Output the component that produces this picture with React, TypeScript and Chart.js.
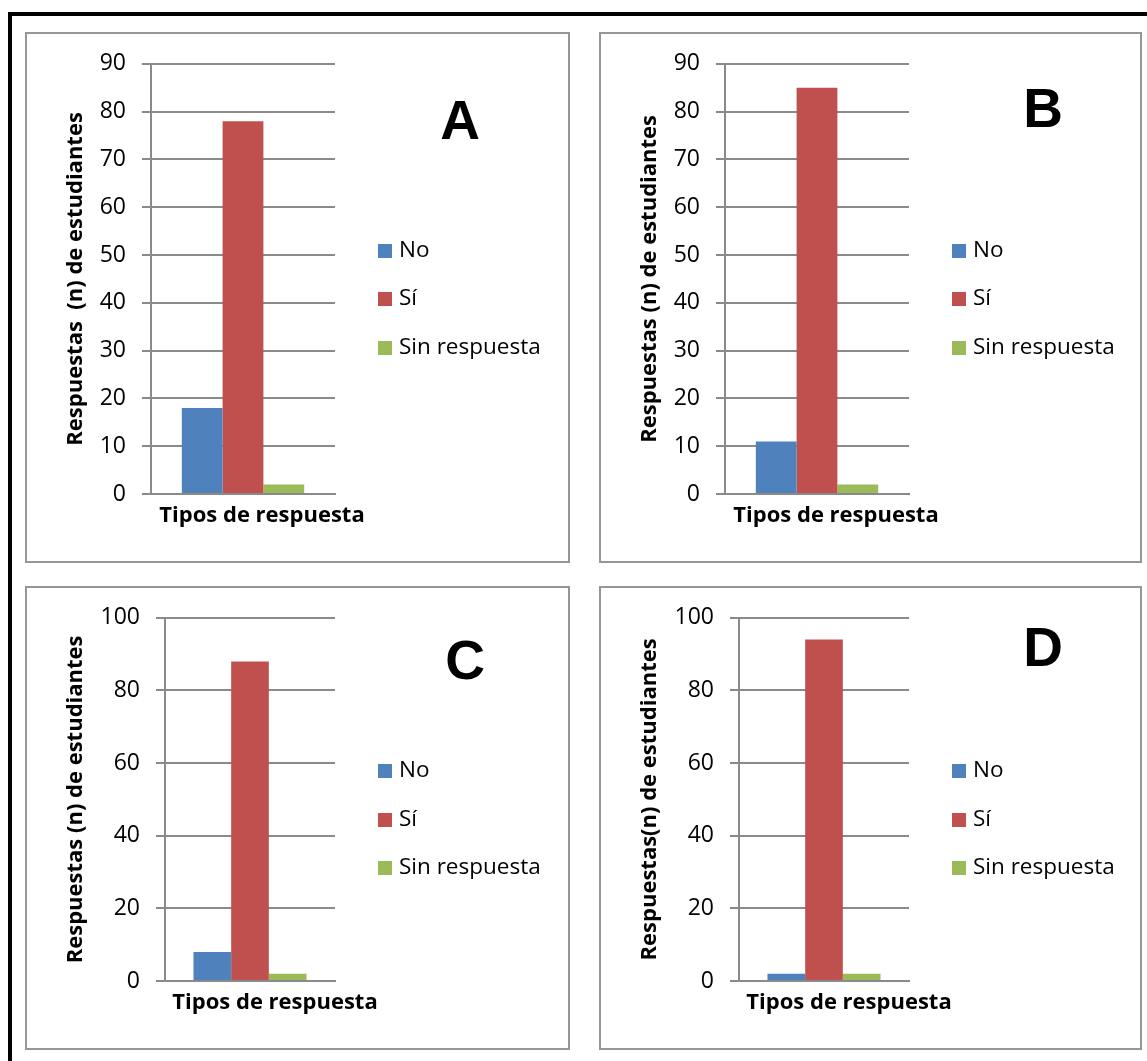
import { useEffect, useRef } from 'react';
import { Chart, registerables } from 'chart.js';

Chart.register(...registerables);

// Series shared by the four panels
const seriesNames = ['No', 'Sí', 'Sin respuesta'];
const seriesColors = ['#4F81BD', '#C0504D', '#9BBB59'];
const categories = ['Tipos de respuesta'];

// Student answers (n) per panel, in the order of seriesNames
const valuesA = [18, 78, 2];
const valuesB = [11, 85, 2];
const valuesC = [8, 88, 2];
const valuesD = [2, 94, 2];

// Value axis ranges
const axisMaxAB = 90;
const axisStepAB = 10;
const axisMaxCD = 100;
const axisStepCD = 20;

const GRID = '#8a8a8a';
const FONT = '"Open Sans", "Noto Sans", sans-serif';

// Legend stacked to the right of the plot, vertically centred on the canvas
const sideLegend = {
  id: 'sideLegend',
  afterDraw(chart: any, _args: any, opts: any) {
    const { ctx, chartArea } = chart;
    const sets = chart.data.datasets;
    const n = sets.length;
    const box = opts.boxSize;
    const x = chartArea.right + opts.offsetX;
    const cy = chart.height / 2 + opts.offsetY;
    ctx.save();
    ctx.font = `${opts.fontSize}px ${FONT}`;
    ctx.textBaseline = 'middle';
    ctx.textAlign = 'left';
    sets.forEach((ds: any, i: number) => {
      const y = cy + (i - (n - 1) / 2) * opts.spacing;
      ctx.fillStyle = ds.backgroundColor;
      ctx.fillRect(x, Math.round(y - box / 2), box, box);
      ctx.fillStyle = '#000';
      ctx.fillText(ds.label, x + box + opts.textGap, y);
    });
    ctx.restore();
  },
};

type PanelProps = {
  letter: string;
  values: number[];
  yMax: number;
  yStep: number;
  yTitle: string;
  left: number;
  top: number;
  width: number;
  height: number;
  axisWidth: number;
  padTop: number;
  padBottom: number;
  xHeight: number;
  labelShift: number;
  letterX: number;
  letterY: number;
};

function Panel(p: PanelProps) {
  const ref = useRef<HTMLCanvasElement | null>(null);
  const innerW = p.width - 4;
  const innerH = p.height - 4;

  useEffect(() => {
    if (!ref.current) return;
    const chart = new Chart(ref.current, {
      type: 'bar',
      data: {
        labels: categories,
        datasets: seriesNames.map((name, i) => ({
          label: name,
          data: [p.values[i]],
          backgroundColor: seriesColors[i],
          borderWidth: 0,
          categoryPercentage: 0.665,
          barPercentage: 1,
        })),
      },
      options: {
        responsive: false,
        animation: false,
        devicePixelRatio: 1,
        layout: { padding: { top: p.padTop, bottom: p.padBottom, left: 0, right: innerW - 308 } },
        plugins: {
          tooltip: { enabled: false },
          legend: { display: false },
          sideLegend: {
            offsetX: 43,
            offsetY: 1.5,
            boxSize: 14,
            textGap: 7,
            spacing: 48.5,
            fontSize: 22.5,
          },
        },
        scales: {
          x: {
            grid: { display: false, drawTicks: false },
            border: { display: true, color: GRID, width: 2 },
            ticks: {
              color: '#000',
              padding: 9,
              labelOffset: p.labelShift,
              font: { family: FONT, size: 22, weight: 'bold' },
            },
            afterFit: (s: any) => {
              s.height = p.xHeight;
            },
          },
          y: {
            min: 0,
            max: p.yMax,
            ticks: {
              stepSize: p.yStep,
              color: '#000',
              padding: 16,
              font: { family: FONT, size: 23 },
            },
            grid: { color: GRID, lineWidth: 2, tickLength: 9, drawTicks: true },
            border: { display: true, color: GRID, width: 2 },
            title: {
              display: true,
              text: p.yTitle,
              color: '#000',
              font: { family: FONT, size: 22, weight: 'bold' },
              padding: { top: 36, bottom: 0 },
            },
            afterFit: (s: any) => {
              s.width = p.axisWidth;
            },
          },
        },
      } as any,
      plugins: [sideLegend],
    });
    return () => chart.destroy();
  }, []);

  return (
    <div
      style={{
        position: 'absolute',
        left: p.left,
        top: p.top,
        width: p.width,
        height: p.height,
        boxSizing: 'border-box',
        border: '2px solid #969696',
        background: '#fff',
      }}
    >
      <canvas ref={ref} width={innerW} height={innerH} style={{ display: 'block' }} />
      <div
        style={{
          position: 'absolute',
          left: p.letterX,
          top: p.letterY,
          transform: 'translate(-50%, -50%)',
          fontFamily: '"Liberation Sans", Arial, sans-serif',
          fontWeight: 'bold',
          fontSize: 55,
          lineHeight: 1,
          color: '#000',
        }}
      >
        {p.letter}
      </div>
    </div>
  );
}

export default function App() {
  return (
    <div
      style={{
        position: 'absolute',
        left: 0,
        top: 0,
        width: 1147,
        height: 1061,
        overflow: 'hidden',
        background: '#fff',
      }}
    >
      <div
        style={{
          position: 'absolute',
          left: 8,
          top: 12,
          width: 1200,
          height: 1100,
          boxSizing: 'border-box',
          border: '4px solid #000',
        }}
      />
      <Panel
        letter="A"
        values={valuesA}
        yMax={axisMaxAB}
        yStep={axisStepAB}
        yTitle="Respuestas  (n) de estudiantes"
        left={25}
        top={32}
        width={545}
        height={531}
        axisWidth={124}
        padTop={28}
        padBottom={29}
        xHeight={38}
        labelShift={19}
        letterX={433}
        letterY={86}
      />
      <Panel
        letter="B"
        values={valuesB}
        yMax={axisMaxAB}
        yStep={axisStepAB}
        yTitle="Respuestas (n) de estudiantes"
        left={599}
        top={32}
        width={543}
        height={531}
        axisWidth={124}
        padTop={28}
        padBottom={29}
        xHeight={38}
        labelShift={19}
        letterX={442}
        letterY={74}
      />
      <Panel
        letter="C"
        values={valuesC}
        yMax={axisMaxCD}
        yStep={axisStepCD}
        yTitle="Respuestas (n) de estudiantes"
        left={25}
        top={586}
        width={545}
        height={464}
        axisWidth={138}
        padTop={29}
        padBottom={29}
        xHeight={38}
        labelShift={25}
        letterX={438}
        letterY={72}
      />
      <Panel
        letter="D"
        values={valuesD}
        yMax={axisMaxCD}
        yStep={axisStepCD}
        yTitle="Respuestas(n) de estudiantes"
        left={599}
        top={586}
        width={543}
        height={464}
        axisWidth={138}
        padTop={29}
        padBottom={29}
        xHeight={38}
        labelShift={25}
        letterX={442}
        letterY={59}
      />
    </div>
  );
}
